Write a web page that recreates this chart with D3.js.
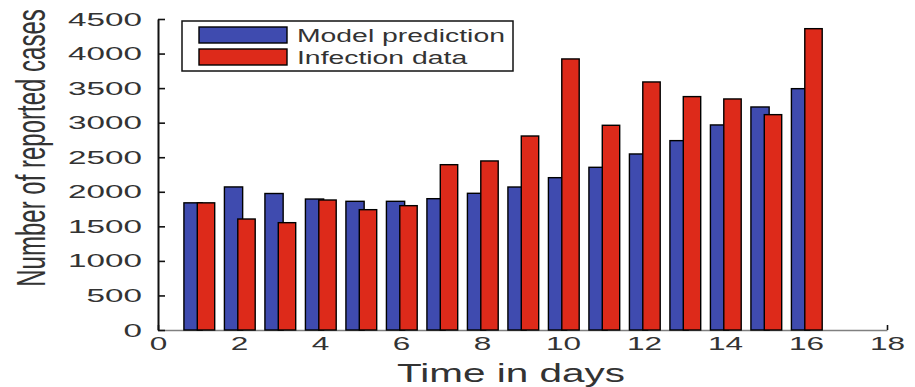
<!DOCTYPE html>
<html>
<head>
<meta charset="utf-8">
<script src="https://cdn.jsdelivr.net/npm/d3@7"></script>
<style>
  html, body { margin: 0; padding: 0; background: #fff; }
  svg { display: block; }
  text { font-family: "Liberation Sans", Arial, Helvetica, sans-serif; fill: #333; }
</style>
</head>
<body>
<svg id="chart" width="915" height="387"></svg>
<script>
// ---- data ----
const days = [1, 2, 3, 4, 5, 6, 7, 8, 9, 10, 11, 12, 13, 14, 15, 16];
const modelPrediction = [1840, 2070, 1975, 1895, 1862, 1862, 1900, 1978, 2069, 2204, 2354, 2547, 2740, 2967, 3227, 3492];
const infectionData   = [1840, 1606, 1553, 1881, 1741, 1799, 2392, 2446, 2807, 3922, 2962, 3589, 3377, 3343, 3116, 4360];
const seriesNames = ["Model prediction", "Infection data"];
const seriesColors = ["#3f4baf", "#dd2a1a"];
const xTicks = [0, 2, 4, 6, 8, 10, 12, 14, 16, 18];
const yTicks = [0, 500, 1000, 1500, 2000, 2500, 3000, 3500, 4000, 4500];
const xLabel = "Time in days";
const yLabel = "Number of reported cases";

const svg = d3.select("#chart");
const x = d3.scaleLinear().domain([0, 18]).range([158, 887]);
const y = d3.scaleLinear().domain([0, 4500]).range([330, 19]);

// x axis (gray line, inward ticks)
const gx = svg.append("g").attr("transform", `translate(0,${y(0)})`)
  .call(d3.axisBottom(x).tickValues(xTicks).tickSizeInner(-5).tickSizeOuter(0).tickFormat(d3.format("d")));
gx.select(".domain").attr("stroke", "#808080").attr("stroke-width", 1.6);
gx.selectAll(".tick line").attr("stroke", "#111").attr("stroke-width", 1.6);
gx.selectAll(".tick text")
  .attr("y", null).attr("dy", null)
  .attr("font-size", 17.5).attr("text-anchor", "middle")
  .attr("transform", "translate(0,20) scale(1.8,1)");

// bars
const offsets = [[-0.36, 0.09], [-0.03, 0.40]];
const seriesValues = [modelPrediction, infectionData];
seriesValues.forEach((vals, si) => {
  svg.append("g").selectAll("rect").data(days).join("rect")
    .attr("x", (d) => x(d + offsets[si][0]))
    .attr("width", (d) => x(d + offsets[si][1]) - x(d + offsets[si][0]))
    .attr("y", (d, i) => y(vals[i]))
    .attr("height", (d, i) => y(0) - y(vals[i]))
    .attr("fill", seriesColors[si])
    .attr("stroke", "#000").attr("stroke-width", 1.4);
});

// y axis (black line, inward ticks)
const gy = svg.append("g").attr("transform", `translate(${x(0)},0)`)
  .call(d3.axisLeft(y).tickValues(yTicks).tickSizeInner(-7).tickSizeOuter(0).tickFormat(d3.format("d")));
gy.select(".domain").attr("stroke", "#111").attr("stroke-width", 2);
gy.selectAll(".tick line").attr("stroke", "#111").attr("stroke-width", 1.6);
gy.selectAll(".tick text")
  .attr("x", null).attr("dy", null)
  .attr("font-size", 17.5).attr("text-anchor", "end")
  .attr("transform", "translate(-16,6) scale(1.9,1)");

// axis labels
svg.append("text").text(xLabel)
  .attr("font-size", 25).attr("text-anchor", "middle")
  .attr("transform", "translate(511,381.5) scale(1.62,1)");
svg.append("text").text(yLabel)
  .attr("font-size", 24).attr("text-anchor", "middle")
  .attr("transform", "translate(45,148) scale(1.7,1) rotate(-90)");

// legend
const lg = svg.append("g");
lg.append("rect").attr("x", 182).attr("y", 21).attr("width", 331).attr("height", 50)
  .attr("fill", "#fff").attr("stroke", "#111").attr("stroke-width", 1.5);
const legendY = [27, 49];
seriesNames.forEach((name, i) => {
  lg.append("rect").attr("x", 199).attr("y", legendY[i]).attr("width", 88).attr("height", 16)
    .attr("fill", seriesColors[i]).attr("stroke", "#000").attr("stroke-width", 1.4);
  lg.append("text").text(name)
    .attr("font-size", 17.5)
    .attr("transform", `translate(297,${legendY[i] + 14.5}) scale(1.62,1)`);
});
</script>
</body>
</html>
